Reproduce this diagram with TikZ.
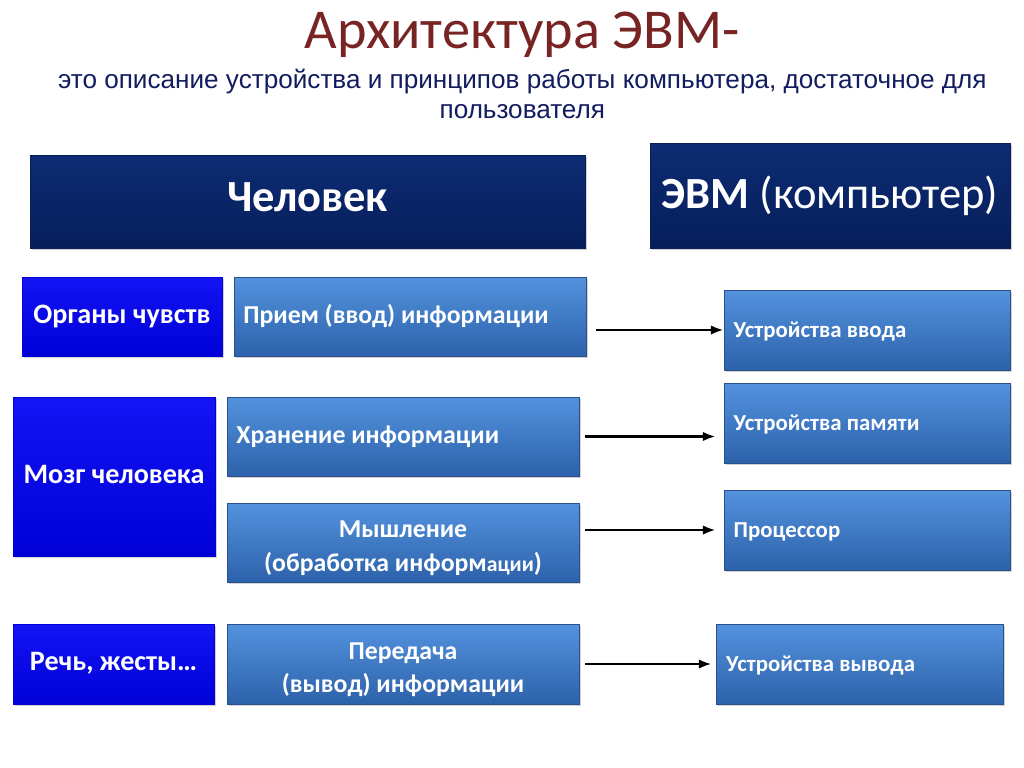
\documentclass[tikz,border=0pt]{standalone}
\usepackage{fontspec}
\setmainfont{Carlito}
\newfontfamily\arialfont{Liberation Sans}
\usepackage{xcolor}
\usepackage{tikz}
\usetikzlibrary{arrows.meta}
\usetikzlibrary{positioning}
\usetikzlibrary{shadows}
\usetikzlibrary{calc}
\definecolor{titlered}{RGB}{120,36,36}
\definecolor{subnavy}{RGB}{18,28,96}
\definecolor{navytop}{RGB}{14,44,116}
\definecolor{navybot}{RGB}{6,30,90}
\definecolor{bluetop}{RGB}{20,20,245}
\definecolor{bluebot}{RGB}{0,0,215}
\definecolor{midtop}{RGB}{84,146,222}
\definecolor{midbot}{RGB}{44,98,170}
\definecolor{midline}{RGB}{40,80,140}
\newcommand\bigboxfont{\fontsize{38}{44}\selectfont\bfseries}
\newcommand\leftfont{\fontsize{24}{29}\selectfont\bfseries}
\newcommand\boxfont{\fontsize{22}{29}\selectfont\bfseries}
\newcommand\devfont{\fontsize{19.5}{24}\selectfont\bfseries}
\newcommand\topstrut{\rule{0pt}{24pt}}
\tikzset{
  box/.style = {rectangle, inner sep=0pt, text=white,
    drop shadow={shadow xshift=2pt, shadow yshift=-2pt, opacity=0.35}},
  box_navy/.style = {box, draw=navybot, top color=navytop, bottom color=navybot,
    minimum height=2.79cm},% shapka: chelovek / EVM
  box_blue/.style = {box, draw=bluebot, top color=bluetop, bottom color=bluebot,
    font=\leftfont, align=center, text height=1.22em, text depth=0.07em},% organy
  box_mid/.style = {box, draw=midline, top color=midtop, bottom color=midbot,
    font=\boxfont, minimum width=10.56cm, minimum height=2.37cm},% funkcii
  box_one/.style = {box_mid, text width=10.0cm, align=flush left,
    text height=1.25em, text depth=0.07em},% odna stroka
  box_two/.style = {box_mid, align=center},% dve stroki
  box_dev/.style = {box, draw=midline, top color=midtop, bottom color=midbot,
    font=\devfont, minimum width=8.58cm, minimum height=2.4cm,
    text width=8.0cm, align=flush left, text height=1.35em, text depth=0.07em},% ustrojstva EVM
  arr/.style = {-{Latex[length=11pt,width=8pt]}, line width=2.2pt, black}
}

\begin{document}
\begin{tikzpicture}
\useasboundingbox[fill=white] (0,0) rectangle (30.72,-23.01);
% zagolovok
\node [anchor=base, inner sep=0pt, text=titlered,
  font=\fontsize{48}{52}\selectfont] (title) at (15.66,-1.46) {Архитектура ЭВМ-};
\node [anchor=north, inner sep=0pt, text=subnavy, align=center,
  font=\arialfont\fontsize{22.3}{25.5}\selectfont] (sub) at (15.67,-2.06)
  {это описание устройства и принципов работы компьютера, достаточное для\\пользователя};
% shapka
\node [box_navy, minimum width=16.65cm, font=\bigboxfont,
  text height=1.63em, text depth=0pt] (chel) at (9.225,-6.045) {Человек};
\node [box_navy, minimum width=10.8cm, minimum height=3.15cm,
  font=\fontsize{38}{44}\selectfont] (evm) at (24.9,-5.865) {\textbf{ЭВМ} (компьютер)};
% chelovek
\node [box_blue, minimum width=6.0cm, minimum height=2.37cm] (organy) at (3.66,-9.495) {Органы чувств};
\node [box_blue, minimum width=6.06cm, minimum height=4.77cm] (mozg) at (3.42,-14.295) {Мозг человека};
\node [box_blue, minimum width=6.03cm, minimum height=2.4cm] (rech) at (3.405,-19.92) {Речь, жесты…};
\node [box_one] (priem) at (12.3,-9.495) {Прием (ввод) информации};
\node [box_one] (hran) at (12.09,-13.095) {Хранение информации};
\node [box_two] (mysh) at (12.09,-16.275) {\topstrut Мышление\\(обработка информ{\fontsize{18.5}{22}\selectfont ации})};
\node [box_two, minimum height=2.4cm] (pered) at (12.09,-19.92) {\topstrut Передача\\(вывод) информации};
% EVM
\node [box_dev] (vvod) at (26.01,-9.9) {Устройства ввода};
\node [box_dev] (pamyat) at (26.01,-12.69) {Устройства памяти};
\node [box_dev] (proc) at (26.01,-15.9) {Процессор};
\node [box_dev, minimum width=8.61cm] (vyvod) at (25.785,-19.92) {Устройства вывода};
% strelki
\draw [arr] ([xshift=0.3cm]priem.east |- vvod.west) -- (vvod.west);
\draw [arr] ([xshift=0.18cm]hran.east) -- ([xshift=-0.24cm]pamyat.west |- hran.east);
\draw [arr] ([xshift=0.18cm]mysh.east |- proc.west) -- ([xshift=-0.24cm]proc.west);
\draw [arr] ([xshift=0.18cm]pered.east) -- ([xshift=-0.12cm]vyvod.west);
\end{tikzpicture}
\end{document}
